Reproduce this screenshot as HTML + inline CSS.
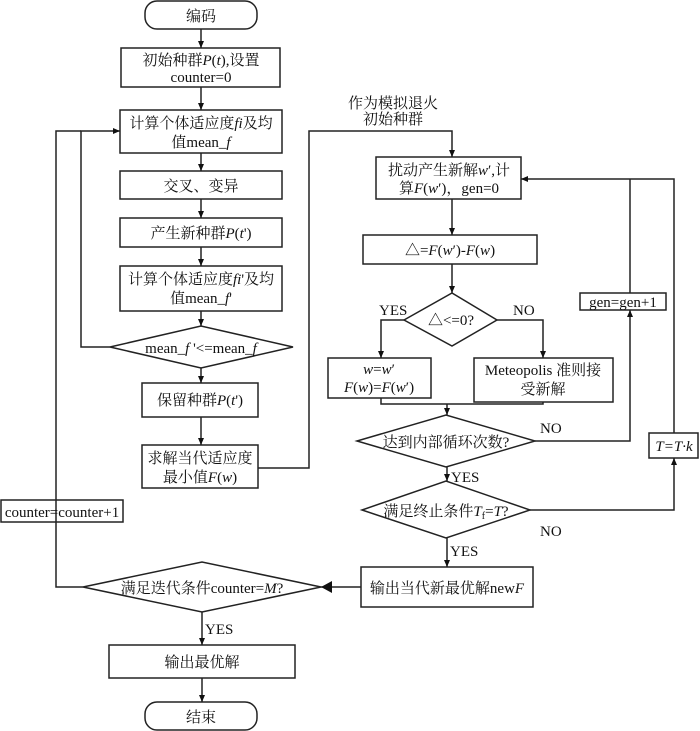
<!DOCTYPE html>
<html><head><meta charset="utf-8"><style>
html,body{margin:0;padding:0;background:#fff;}
svg{display:block;}
text{font-family:"Liberation Serif","Noto Serif CJK SC",serif;font-size:15px;fill:#111;}
</style></head><body>
<svg width="700" height="731" viewBox="0 0 700 731" xmlns="http://www.w3.org/2000/svg">
<defs>
<marker id="a" markerWidth="8" markerHeight="8" refX="7" refY="4" orient="auto" markerUnits="userSpaceOnUse"><path d="M0,1 L7,4 L0,7 z" fill="#111"/></marker>
<marker id="b" markerWidth="12" markerHeight="12" refX="11" refY="6" orient="auto" markerUnits="userSpaceOnUse"><path d="M0,0 L11,6 L0,12 z" fill="#111"/></marker>
</defs>
<g fill="none" stroke="#222" stroke-width="1.5">
<!-- left column shapes -->
<rect x="145" y="1" width="112" height="28" rx="12"/>
<rect x="121" y="48" width="159" height="39"/>
<rect x="120" y="110" width="162" height="43"/>
<rect x="120" y="171" width="162" height="28"/>
<rect x="120" y="218" width="162" height="29"/>
<rect x="120" y="266" width="162" height="45"/>
<polygon points="110,347 201,326 293,347 201,368"/>
<rect x="142" y="383" width="116" height="34"/>
<rect x="142" y="445" width="116" height="43"/>
<rect x="1" y="500" width="122" height="22"/>
<polygon points="83,587 202,562 321,587 202,612"/>
<rect x="109" y="645" width="186" height="33"/>
<rect x="145" y="702" width="112" height="28" rx="12"/>
<!-- right column shapes -->
<rect x="376" y="157" width="145" height="42"/>
<rect x="363" y="235" width="174" height="29"/>
<polygon points="404,320 452,293 497,320 452,346"/>
<rect x="328" y="358" width="103" height="40"/>
<rect x="474" y="358" width="139" height="44"/>
<polygon points="357,441 446,415 535,441 446,467"/>
<polygon points="362,510 446,481 530,510 446,538"/>
<rect x="361" y="567" width="172" height="40"/>
<rect x="580" y="293" width="86" height="17"/>
<rect x="649" y="433" width="49" height="25"/>
<!-- left connectors -->
<line x1="201" y1="29" x2="201" y2="48" marker-end="url(#a)"/>
<line x1="201" y1="87" x2="201" y2="110" marker-end="url(#a)"/>
<line x1="201" y1="153" x2="201" y2="171" marker-end="url(#a)"/>
<line x1="201" y1="199" x2="201" y2="218" marker-end="url(#a)"/>
<line x1="201" y1="247" x2="201" y2="266" marker-end="url(#a)"/>
<line x1="201" y1="311" x2="201" y2="326" marker-end="url(#a)"/>
<line x1="201" y1="368" x2="201" y2="383" marker-end="url(#a)"/>
<line x1="201" y1="417" x2="201" y2="445" marker-end="url(#a)"/>
<polyline points="110,347 81,347 81,131 120,131" marker-end="url(#a)"/>
<polyline points="83,587 56,587 56,131 81,131"/>
<line x1="202" y1="612" x2="202" y2="645" marker-end="url(#a)"/>
<line x1="202" y1="678" x2="202" y2="702" marker-end="url(#a)"/>
<polyline points="258,468 309,468 309,131 452,131 452,157" marker-end="url(#a)"/>
<!-- right connectors -->
<line x1="452" y1="199" x2="452" y2="235" marker-end="url(#a)"/>
<line x1="452" y1="264" x2="452" y2="293" marker-end="url(#a)"/>
<polyline points="404,320 381,320 381,358" marker-end="url(#a)"/>
<polyline points="497,320 543,320 543,358" marker-end="url(#a)"/>
<polyline points="381,398 381,404 543,404 543,402"/>
<line x1="447" y1="404" x2="447" y2="415" marker-end="url(#a)"/>
<line x1="447" y1="467" x2="447" y2="481" marker-end="url(#a)"/>
<line x1="447" y1="538" x2="447" y2="567" marker-end="url(#a)"/>
<line x1="361" y1="587" x2="321" y2="587" marker-end="url(#b)"/>
<polyline points="535,441 630,441 630,310" marker-end="url(#a)"/>
<polyline points="630,293 630,179"/>
<polyline points="530,510 674,510 674,458" marker-end="url(#a)"/>
<polyline points="674,433 674,179 521,179" marker-end="url(#a)"/>
</g>
<g text-anchor="middle">
<text x="201" y="21">编码</text>
<text x="201" y="65">初始种群<tspan font-style="italic">P</tspan>(<tspan font-style="italic">t</tspan>),设置</text>
<text x="201" y="82">counter=0</text>
<text x="201" y="128">计算个体适应度<tspan font-style="italic">fi</tspan>及均</text>
<text x="201" y="147">值mean_<tspan font-style="italic">f</tspan></text>
<text x="201" y="191">交叉、变异</text>
<text x="201" y="238">产生新种群<tspan font-style="italic">P</tspan>(<tspan font-style="italic">t</tspan>')</text>
<text x="201" y="284">计算个体适应度<tspan font-style="italic">fi</tspan>'及均</text>
<text x="201" y="303">值mean_<tspan font-style="italic">f</tspan>'</text>
<text x="201" y="353">mean_<tspan font-style="italic">f</tspan> '&lt;=mean_<tspan font-style="italic">f</tspan></text>
<text x="200" y="405">保留种群<tspan font-style="italic">P</tspan>(<tspan font-style="italic">t</tspan>')</text>
<text x="200" y="463">求解当代适应度</text>
<text x="200" y="482">最小值<tspan font-style="italic">F</tspan>(<tspan font-style="italic">w</tspan>)</text>
<text x="62" y="517" font-size="14">counter=counter+1</text>
<text x="202" y="593">满足迭代条件counter=<tspan font-style="italic">M</tspan>?</text>
<text x="202" y="667">输出最优解</text>
<text x="201" y="722">结束</text>
<text x="393" y="108">作为模拟退火</text>
<text x="393" y="124">初始种群</text>
<text x="449" y="175">扰动产生新解<tspan font-style="italic">w</tspan>′,计</text>
<text x="449" y="193">算<tspan font-style="italic">F</tspan>(<tspan font-style="italic">w</tspan>′)，gen=0</text>
<text x="450" y="255">△=<tspan font-style="italic">F</tspan>(<tspan font-style="italic">w</tspan>′)-<tspan font-style="italic">F</tspan>(<tspan font-style="italic">w</tspan>)</text>
<text x="451" y="325">△&lt;=0?</text>
<text x="379" y="374"><tspan font-style="italic">w</tspan>=<tspan font-style="italic">w</tspan>′</text>
<text x="379" y="392"><tspan font-style="italic">F</tspan>(<tspan font-style="italic">w</tspan>)=<tspan font-style="italic">F</tspan>(<tspan font-style="italic">w</tspan>′)</text>
<text x="543" y="375">Meteopolis 准则接</text>
<text x="543" y="394">受新解</text>
<text x="446" y="447">达到内部循环次数?</text>
<text x="446" y="516">满足终止条件<tspan font-style="italic">T</tspan><tspan font-size="10" dy="3">f</tspan><tspan dy="-3">=</tspan><tspan font-style="italic">T</tspan>?</text>
<text x="447" y="593">输出当代新最优解new<tspan font-style="italic">F</tspan></text>
<text x="623" y="307">gen=gen+1</text>
<text x="674" y="451" font-style="italic">T=T·k</text>
</g>
<g>
<text x="379" y="315">YES</text>
<text x="513" y="315">NO</text>
<text x="540" y="433">NO</text>
<text x="540" y="536">NO</text>
<text x="451" y="482">YES</text>
<text x="450" y="556">YES</text>
<text x="205" y="634">YES</text>
</g>
</svg>
</body></html>
